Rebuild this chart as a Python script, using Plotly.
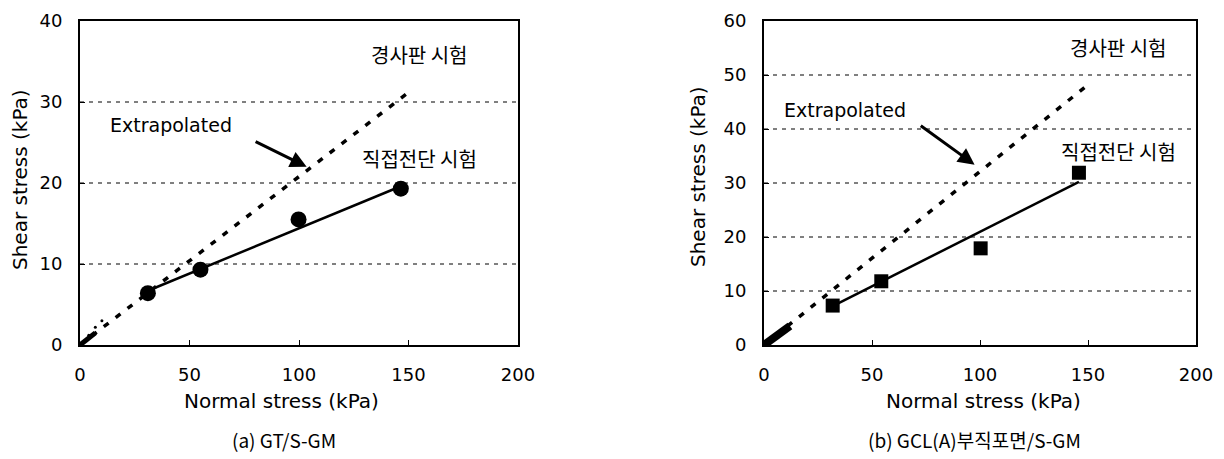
import plotly.graph_objects as go

# ---- data ----
a_normal = [31, 55, 99.8, 146.5]
a_shear = [6.4, 9.3, 15.5, 19.3]
a_fit_x = [31, 146.5]
a_fit_y = [6.7, 19.6]
a_extra_x = [0, 152]
a_extra_y = [0, 31.6]
a_origin_x = [0, 7]
a_origin_y = [0, 1.5]
a_small_x = [4, 7, 10]
a_small_y = [1.2, 2.2, 3.0]

b_normal = [31.8, 54.3, 100.3, 145.8]
b_shear = [7.3, 11.8, 17.9, 31.9]
b_fit_x = [31.8, 145.8]
b_fit_y = [7.2, 30.2]
b_extra_x = [0, 150]
b_extra_y = [0, 48.2]
b_origin_x = [0, 12]
b_origin_y = [0, 3.5]

x_ticks = [0, 50, 100, 150, 200]
a_y_ticks = [0, 10, 20, 30, 40]
b_y_ticks = [0, 10, 20, 30, 40, 50, 60]
a_grid = [10, 20, 30]
b_grid = [10, 20, 30, 40, 50]

label_tilt = "경사판 시험"
label_direct = "직접전단 시험"
label_extra = "Extrapolated"
x_title = "Normal stress (kPa)"
y_title = "Shear stress (kPa)"
cap_a = "(a) GT/S-GM"
cap_b = "(b) GCL(A)부직포면/S-GM"

FONT = "DejaVu Sans, sans-serif"
KFONT = "Noto Sans CJK KR, sans-serif"

fig = go.Figure()

def add_panel(xa, ya, normal, shear, fit_x, fit_y, ex_x, ex_y, or_x, or_y, symbol, msize, owidth):
    fig.add_trace(go.Scatter(x=ex_x, y=ex_y, mode="lines", xaxis=xa, yaxis=ya,
                             line=dict(color="black", width=3.5, dash="6px,9px"), showlegend=False))
    fig.add_trace(go.Scatter(x=or_x, y=or_y, mode="lines", xaxis=xa, yaxis=ya,
                             line=dict(color="black", width=owidth), showlegend=False))
    fig.add_trace(go.Scatter(x=fit_x, y=fit_y, mode="lines", xaxis=xa, yaxis=ya,
                             line=dict(color="black", width=2.5), showlegend=False))
    fig.add_trace(go.Scatter(x=normal, y=shear, mode="markers", xaxis=xa, yaxis=ya,
                             marker=dict(color="black", size=msize, symbol=symbol), showlegend=False))

add_panel("x", "y", a_normal, a_shear, a_fit_x, a_fit_y, a_extra_x, a_extra_y,
          a_origin_x, a_origin_y, "circle", 16, 5)
fig.add_trace(go.Scatter(x=a_small_x, y=a_small_y, mode="markers", xaxis="x", yaxis="y",
                         marker=dict(color="black", size=3), showlegend=False))
add_panel("x2", "y2", b_normal, b_shear, b_fit_x, b_fit_y, b_extra_x, b_extra_y,
          b_origin_x, b_origin_y, "square", 14, 8)

axis_common = dict(showline=True, linecolor="black", linewidth=2, mirror=True,
                   showgrid=False, zeroline=False, ticks="inside", ticklen=5,
                   tickcolor="black", tickfont=dict(family=FONT, size=18, color="black"))

fig.update_layout(
    width=1224, height=459, margin=dict(l=0, r=0, t=0, b=0, autoexpand=False),
    paper_bgcolor="white", plot_bgcolor="white",
    xaxis=dict(domain=[80/1224, 518/1224], range=[0, 200], tickvals=x_ticks,
               ticklabelstandoff=12, anchor="y", **axis_common),
    yaxis=dict(domain=[114/459, 438/459], range=[0, 40], tickvals=a_y_ticks,
               ticklabelstandoff=12, anchor="x", **axis_common),
    xaxis2=dict(domain=[764/1224, 1196/1224], range=[0, 200], tickvals=x_ticks,
                ticklabelstandoff=12, anchor="y2", **axis_common),
    yaxis2=dict(domain=[114/459, 438/459], range=[0, 60], tickvals=b_y_ticks,
                ticklabelstandoff=12, anchor="x2", **axis_common),
)

shapes = []
for g in a_grid:
    shapes.append(dict(type="line", xref="x domain", yref="y", x0=0, x1=1, y0=g, y1=g,
                       line=dict(color="black", width=1, dash="4px,5px"), layer="below"))
for g in b_grid:
    shapes.append(dict(type="line", xref="x2 domain", yref="y2", x0=0, x1=1, y0=g, y1=g,
                       line=dict(color="black", width=1, dash="4px,5px"), layer="below"))
fig.update_layout(shapes=shapes)

ann = []
def txt(xr, yr, x, y, text, font=FONT, size=20, **kw):
    ann.append(dict(xref=xr, yref=yr, x=x, y=y, text=text, showarrow=False,
                    xanchor="center", yanchor="middle",
                    font=dict(family=font, size=size, color="black"), **kw))

txt("x", "y", 155, 35.9, label_tilt, font=KFONT, size=20)
txt("x", "y", 155, 23.0, label_direct, font=KFONT, size=20)
txt("x", "y", 41.7, 27.1, label_extra, size=19)
txt("x2", "y2", 164, 55.0, label_tilt, font=KFONT, size=20)
txt("x2", "y2", 164, 35.75, label_direct, font=KFONT, size=20)
txt("x2", "y2", 37.5, 43.5, label_extra, size=19)

# arrows
ann.append(dict(xref="x", yref="y", axref="x", ayref="y", x=103.5, y=22.0, ax=79.5, ay=25.2,
                showarrow=True, arrowhead=2, arrowsize=1.1, arrowwidth=3, arrowcolor="black", text=""))
ann.append(dict(xref="x2", yref="y2", axref="x2", ayref="y2", x=97.5, y=33.4, ax=71.9, ay=40.8,
                showarrow=True, arrowhead=2, arrowsize=1.1, arrowwidth=3, arrowcolor="black", text=""))

# axis titles
txt("paper", "paper", 281/1224, (459-401)/459, x_title)
txt("paper", "paper", 983/1224, (459-401)/459, x_title)
txt("paper", "paper", 20/1224, (459-180)/459, y_title, textangle=-90)
txt("paper", "paper", 698/1224, (459-177)/459, y_title, textangle=-90)
# captions
txt("paper", "paper", 284/1224, (459-439)/459, cap_a, font=KFONT, size=19)
txt("paper", "paper", 975/1224, (459-439)/459, cap_b, font=KFONT, size=19)

fig.update_layout(annotations=ann)
fig.write_html("out.html", config={"displayModeBar": False},
               post_script="document.body.style.margin='0';")
